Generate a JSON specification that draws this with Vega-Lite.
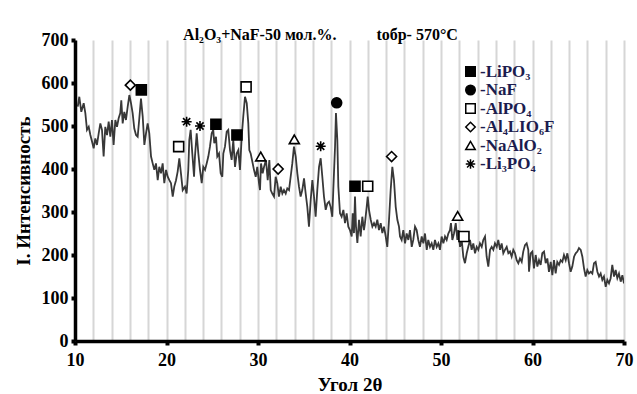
{
  "$schema": "https://vega.github.io/schema/vega-lite/v6.json",
  "width": 549,
  "height": 301,
  "autosize": {"type": "none"},
  "padding": {"left": 75, "top": 40, "right": 13, "bottom": 53},
  "background": "white",
  "title": {
    "text": "Al₂O₃+NaF-50 мол.%.\u00a0\u00a0\u00a0\u00a0\u00a0\u00a0\u00a0\u00a0\u00a0\u00a0tобр- 570°C",
    "font": "Liberation Serif",
    "fontSize": 16,
    "fontWeight": "bold",
    "color": "black",
    "anchor": "middle",
    "baseline": "alphabetic",
    "dx": -29,
    "dy": 28,
    "offset": 3
  },
  "config": {
    "view": {"stroke": null},
    "font": "Liberation Serif",
    "axis": {
      "labelFont": "Liberation Serif",
      "labelFontWeight": "bold",
      "labelFontSize": 18,
      "labelColor": "black",
      "titleFont": "Liberation Serif",
      "titleFontWeight": "bold",
      "titleFontSize": 19,
      "titleColor": "black",
      "domainColor": "black",
      "domainWidth": 3.5,
      "tickColor": "black",
      "tickWidth": 4,
      "tickSize": 4
    }
  },
  "datasets": {
    "xrd": [
      {"angle": 10.3, "intensity": 545}, {"angle": 10.47, "intensity": 568}, {"angle": 10.69, "intensity": 533}, {"angle": 10.95, "intensity": 553},
      {"angle": 11.13, "intensity": 530}, {"angle": 11.31, "intensity": 491}, {"angle": 11.5, "intensity": 498}, {"angle": 11.68, "intensity": 479},
      {"angle": 11.86, "intensity": 464}, {"angle": 12.04, "intensity": 448}, {"angle": 12.22, "intensity": 471}, {"angle": 12.4, "intensity": 456},
      {"angle": 12.59, "intensity": 483}, {"angle": 12.77, "intensity": 506}, {"angle": 12.95, "intensity": 491}, {"angle": 13.13, "intensity": 429},
      {"angle": 13.31, "intensity": 498}, {"angle": 13.5, "intensity": 479}, {"angle": 13.68, "intensity": 510}, {"angle": 13.86, "intensity": 475},
      {"angle": 14.04, "intensity": 514}, {"angle": 14.22, "intensity": 456}, {"angle": 14.41, "intensity": 514}, {"angle": 14.59, "intensity": 498},
      {"angle": 14.77, "intensity": 518}, {"angle": 14.95, "intensity": 530}, {"angle": 15.06, "intensity": 560}, {"angle": 15.21, "intensity": 506},
      {"angle": 15.39, "intensity": 533}, {"angle": 15.57, "intensity": 514}, {"angle": 15.76, "intensity": 545}, {"angle": 15.94, "intensity": 572},
      {"angle": 16.12, "intensity": 553}, {"angle": 16.3, "intensity": 530}, {"angle": 16.48, "intensity": 494}, {"angle": 16.67, "intensity": 479},
      {"angle": 16.85, "intensity": 475}, {"angle": 17.03, "intensity": 518}, {"angle": 17.21, "intensity": 564}, {"angle": 17.4, "intensity": 522},
      {"angle": 17.58, "intensity": 456}, {"angle": 17.76, "intensity": 483}, {"angle": 17.94, "intensity": 506}, {"angle": 18.12, "intensity": 483},
      {"angle": 18.31, "intensity": 429}, {"angle": 18.49, "intensity": 413}, {"angle": 18.67, "intensity": 398}, {"angle": 18.85, "intensity": 413},
      {"angle": 19.04, "intensity": 374}, {"angle": 19.21, "intensity": 405}, {"angle": 19.4, "intensity": 390}, {"angle": 19.58, "intensity": 413},
      {"angle": 19.76, "intensity": 367}, {"angle": 19.95, "intensity": 398}, {"angle": 20.13, "intensity": 382}, {"angle": 20.31, "intensity": 374},
      {"angle": 20.49, "intensity": 367}, {"angle": 20.68, "intensity": 336}, {"angle": 20.85, "intensity": 359}, {"angle": 21.04, "intensity": 374},
      {"angle": 21.22, "intensity": 394}, {"angle": 21.4, "intensity": 425}, {"angle": 21.58, "intensity": 390}, {"angle": 21.77, "intensity": 351},
      {"angle": 22.02, "intensity": 359}, {"angle": 22.2, "intensity": 343}, {"angle": 22.38, "intensity": 398}, {"angle": 22.49, "intensity": 467},
      {"angle": 22.64, "intensity": 491}, {"angle": 22.82, "intensity": 436}, {"angle": 23.01, "intensity": 382}, {"angle": 23.11, "intensity": 429},
      {"angle": 23.3, "intensity": 483}, {"angle": 23.48, "intensity": 436}, {"angle": 23.66, "intensity": 398}, {"angle": 23.85, "intensity": 367},
      {"angle": 24.02, "intensity": 405}, {"angle": 24.21, "intensity": 398}, {"angle": 24.39, "intensity": 413}, {"angle": 24.57, "intensity": 429},
      {"angle": 24.75, "intensity": 452}, {"angle": 24.94, "intensity": 483}, {"angle": 25.11, "intensity": 491}, {"angle": 25.22, "intensity": 460},
      {"angle": 25.41, "intensity": 475}, {"angle": 25.55, "intensity": 429}, {"angle": 25.74, "intensity": 436}, {"angle": 25.92, "intensity": 390},
      {"angle": 26.1, "intensity": 382}, {"angle": 26.21, "intensity": 436}, {"angle": 26.39, "intensity": 452}, {"angle": 26.58, "intensity": 487},
      {"angle": 26.75, "intensity": 491}, {"angle": 26.94, "intensity": 444}, {"angle": 27.12, "intensity": 421}, {"angle": 27.3, "intensity": 467},
      {"angle": 27.49, "intensity": 405}, {"angle": 27.67, "intensity": 436}, {"angle": 27.85, "intensity": 444}, {"angle": 28.03, "intensity": 398},
      {"angle": 28.22, "intensity": 475}, {"angle": 28.39, "intensity": 522}, {"angle": 28.58, "intensity": 568}, {"angle": 28.77, "intensity": 553},
      {"angle": 28.94, "intensity": 506}, {"angle": 29.05, "intensity": 444}, {"angle": 29.2, "intensity": 436}, {"angle": 29.42, "intensity": 413},
      {"angle": 29.56, "intensity": 398}, {"angle": 29.75, "intensity": 382}, {"angle": 29.92, "intensity": 405}, {"angle": 30.11, "intensity": 367},
      {"angle": 30.22, "intensity": 351}, {"angle": 30.33, "intensity": 413}, {"angle": 30.51, "intensity": 390}, {"angle": 30.66, "intensity": 405},
      {"angle": 30.87, "intensity": 421}, {"angle": 31.06, "intensity": 374}, {"angle": 31.24, "intensity": 421}, {"angle": 31.39, "intensity": 351},
      {"angle": 31.56, "intensity": 343}, {"angle": 31.75, "intensity": 336}, {"angle": 31.93, "intensity": 382}, {"angle": 32.11, "intensity": 367},
      {"angle": 32.29, "intensity": 336}, {"angle": 32.48, "intensity": 359}, {"angle": 32.66, "intensity": 343}, {"angle": 32.84, "intensity": 351},
      {"angle": 33.03, "intensity": 343}, {"angle": 33.2, "intensity": 355}, {"angle": 33.39, "intensity": 351}, {"angle": 33.57, "intensity": 382},
      {"angle": 33.75, "intensity": 413}, {"angle": 33.93, "intensity": 452}, {"angle": 34.12, "intensity": 429}, {"angle": 34.3, "intensity": 390},
      {"angle": 34.48, "intensity": 359}, {"angle": 34.66, "intensity": 336}, {"angle": 34.84, "intensity": 351}, {"angle": 35.03, "intensity": 378},
      {"angle": 35.21, "intensity": 343}, {"angle": 35.39, "intensity": 312}, {"angle": 35.57, "intensity": 266}, {"angle": 35.76, "intensity": 328},
      {"angle": 35.94, "intensity": 374}, {"angle": 36.12, "intensity": 336}, {"angle": 36.3, "intensity": 289}, {"angle": 36.48, "intensity": 351},
      {"angle": 36.67, "intensity": 405}, {"angle": 36.85, "intensity": 425}, {"angle": 37.03, "intensity": 382}, {"angle": 37.21, "intensity": 336},
      {"angle": 37.4, "intensity": 305}, {"angle": 37.58, "intensity": 320}, {"angle": 37.76, "intensity": 324}, {"angle": 37.94, "intensity": 312},
      {"angle": 38.12, "intensity": 289}, {"angle": 38.23, "intensity": 351}, {"angle": 38.42, "intensity": 452}, {"angle": 38.52, "intensity": 530},
      {"angle": 38.67, "intensity": 467}, {"angle": 38.78, "intensity": 359}, {"angle": 38.96, "intensity": 297}, {"angle": 39.14, "intensity": 289},
      {"angle": 39.33, "intensity": 305}, {"angle": 39.51, "intensity": 274}, {"angle": 39.69, "intensity": 297}, {"angle": 39.87, "intensity": 266},
      {"angle": 40.05, "intensity": 258}, {"angle": 40.24, "intensity": 243}, {"angle": 40.35, "intensity": 297}, {"angle": 40.49, "intensity": 251},
      {"angle": 40.6, "intensity": 336}, {"angle": 40.71, "intensity": 266}, {"angle": 40.86, "intensity": 228}, {"angle": 41.04, "intensity": 282},
      {"angle": 41.22, "intensity": 243}, {"angle": 41.4, "intensity": 289}, {"angle": 41.58, "intensity": 258}, {"angle": 41.69, "intensity": 274},
      {"angle": 41.88, "intensity": 312}, {"angle": 41.99, "intensity": 336}, {"angle": 42.13, "intensity": 305}, {"angle": 42.32, "intensity": 282},
      {"angle": 42.5, "intensity": 266}, {"angle": 42.68, "intensity": 274}, {"angle": 42.86, "intensity": 266}, {"angle": 43.04, "intensity": 282},
      {"angle": 43.22, "intensity": 258}, {"angle": 43.41, "intensity": 274}, {"angle": 43.59, "intensity": 251}, {"angle": 43.77, "intensity": 266},
      {"angle": 43.96, "intensity": 243}, {"angle": 44.13, "intensity": 219}, {"angle": 44.32, "intensity": 282}, {"angle": 44.5, "intensity": 351},
      {"angle": 44.68, "intensity": 405}, {"angle": 44.86, "intensity": 374}, {"angle": 45.05, "intensity": 312}, {"angle": 45.23, "intensity": 282},
      {"angle": 45.41, "intensity": 266}, {"angle": 45.52, "intensity": 243}, {"angle": 45.7, "intensity": 235}, {"angle": 45.88, "intensity": 258},
      {"angle": 46.07, "intensity": 227}, {"angle": 46.25, "intensity": 250}, {"angle": 46.43, "intensity": 235}, {"angle": 46.61, "intensity": 258},
      {"angle": 46.8, "intensity": 219}, {"angle": 46.97, "intensity": 235}, {"angle": 47.16, "intensity": 266}, {"angle": 47.34, "intensity": 258},
      {"angle": 47.52, "intensity": 235}, {"angle": 47.7, "intensity": 219}, {"angle": 47.89, "intensity": 243}, {"angle": 48.07, "intensity": 227},
      {"angle": 48.25, "intensity": 250}, {"angle": 48.44, "intensity": 212}, {"angle": 48.61, "intensity": 235}, {"angle": 48.8, "intensity": 219},
      {"angle": 48.98, "intensity": 227}, {"angle": 49.16, "intensity": 212}, {"angle": 49.34, "intensity": 235}, {"angle": 49.53, "intensity": 219},
      {"angle": 49.71, "intensity": 227}, {"angle": 49.89, "intensity": 212}, {"angle": 50.07, "intensity": 243}, {"angle": 50.26, "intensity": 227},
      {"angle": 50.44, "intensity": 243}, {"angle": 50.62, "intensity": 235}, {"angle": 50.8, "intensity": 250}, {"angle": 50.98, "intensity": 258},
      {"angle": 51.09, "intensity": 274}, {"angle": 51.24, "intensity": 235}, {"angle": 51.42, "intensity": 250}, {"angle": 51.61, "intensity": 274},
      {"angle": 51.79, "intensity": 235}, {"angle": 51.9, "intensity": 258}, {"angle": 52.08, "intensity": 219}, {"angle": 52.26, "intensity": 235},
      {"angle": 52.44, "intensity": 196}, {"angle": 52.62, "intensity": 181}, {"angle": 52.81, "intensity": 204}, {"angle": 52.98, "intensity": 219},
      {"angle": 53.17, "intensity": 235}, {"angle": 53.35, "intensity": 212}, {"angle": 53.53, "intensity": 227}, {"angle": 53.72, "intensity": 204},
      {"angle": 53.9, "intensity": 219}, {"angle": 54.08, "intensity": 212}, {"angle": 54.26, "intensity": 227}, {"angle": 54.45, "intensity": 219},
      {"angle": 54.62, "intensity": 235}, {"angle": 54.81, "intensity": 243}, {"angle": 54.99, "intensity": 196}, {"angle": 55.17, "intensity": 173},
      {"angle": 55.36, "intensity": 212}, {"angle": 55.54, "intensity": 219}, {"angle": 55.72, "intensity": 212}, {"angle": 55.9, "intensity": 227},
      {"angle": 56.09, "intensity": 219}, {"angle": 56.26, "intensity": 235}, {"angle": 56.45, "intensity": 212}, {"angle": 56.63, "intensity": 227},
      {"angle": 56.81, "intensity": 204}, {"angle": 56.99, "intensity": 212}, {"angle": 57.18, "intensity": 219}, {"angle": 57.36, "intensity": 204},
      {"angle": 57.54, "intensity": 208}, {"angle": 57.72, "intensity": 196}, {"angle": 57.9, "intensity": 212}, {"angle": 58.09, "intensity": 204},
      {"angle": 58.27, "intensity": 188}, {"angle": 58.45, "intensity": 181}, {"angle": 58.63, "intensity": 192}, {"angle": 58.82, "intensity": 184},
      {"angle": 58.99, "intensity": 208}, {"angle": 59.18, "intensity": 223}, {"angle": 59.36, "intensity": 227}, {"angle": 59.54, "intensity": 212},
      {"angle": 59.62, "intensity": 161}, {"angle": 59.8, "intensity": 204}, {"angle": 59.98, "intensity": 208}, {"angle": 60.16, "intensity": 169},
      {"angle": 60.35, "intensity": 200}, {"angle": 60.53, "intensity": 173}, {"angle": 60.71, "intensity": 188}, {"angle": 60.89, "intensity": 177},
      {"angle": 61.07, "intensity": 204}, {"angle": 61.26, "intensity": 208}, {"angle": 61.44, "intensity": 181}, {"angle": 61.62, "intensity": 192},
      {"angle": 61.8, "intensity": 161}, {"angle": 61.99, "intensity": 184}, {"angle": 62.17, "intensity": 153}, {"angle": 62.35, "intensity": 188},
      {"angle": 62.53, "intensity": 157}, {"angle": 62.71, "intensity": 184}, {"angle": 62.9, "intensity": 177}, {"angle": 63.08, "intensity": 188},
      {"angle": 63.26, "intensity": 184}, {"angle": 63.44, "intensity": 200}, {"angle": 63.63, "intensity": 188}, {"angle": 63.81, "intensity": 204},
      {"angle": 63.99, "intensity": 181}, {"angle": 64.17, "intensity": 161}, {"angle": 64.35, "intensity": 173}, {"angle": 64.54, "intensity": 196},
      {"angle": 64.72, "intensity": 204}, {"angle": 64.9, "intensity": 208}, {"angle": 65.08, "intensity": 216}, {"angle": 65.27, "intensity": 212},
      {"angle": 65.45, "intensity": 196}, {"angle": 65.63, "intensity": 169}, {"angle": 65.81, "intensity": 150}, {"angle": 65.99, "intensity": 165},
      {"angle": 66.17, "intensity": 157}, {"angle": 66.36, "intensity": 161}, {"angle": 66.54, "intensity": 157}, {"angle": 66.72, "intensity": 181},
      {"angle": 66.9, "intensity": 184}, {"angle": 67.09, "intensity": 161}, {"angle": 67.27, "intensity": 150}, {"angle": 67.45, "intensity": 157},
      {"angle": 67.63, "intensity": 142}, {"angle": 67.81, "intensity": 150}, {"angle": 68.0, "intensity": 126}, {"angle": 68.18, "intensity": 142},
      {"angle": 68.36, "intensity": 134}, {"angle": 68.54, "intensity": 146}, {"angle": 68.72, "intensity": 177}, {"angle": 68.91, "intensity": 150},
      {"angle": 69.09, "intensity": 165}, {"angle": 69.27, "intensity": 146}, {"angle": 69.45, "intensity": 157}, {"angle": 69.64, "intensity": 138},
      {"angle": 69.82, "intensity": 153}, {"angle": 70.0, "intensity": 134}
    ],
    "peaks": [
      {"phase": "LiPO₃", "angle": 17.25, "intensity": 584},
      {"phase": "LiPO₃", "angle": 25.4, "intensity": 504},
      {"phase": "LiPO₃", "angle": 27.7, "intensity": 479},
      {"phase": "LiPO₃", "angle": 40.6, "intensity": 360},
      {"phase": "NaF", "angle": 38.6, "intensity": 554},
      {"phase": "AlPO₄", "angle": 21.33, "intensity": 452},
      {"phase": "AlPO₄", "angle": 28.7, "intensity": 591},
      {"phase": "AlPO₄", "angle": 41.99, "intensity": 360},
      {"phase": "AlPO₄", "angle": 52.51, "intensity": 243},
      {"phase": "Al₄LIO₆F", "angle": 16.05, "intensity": 595},
      {"phase": "Al₄LIO₆F", "angle": 32.2, "intensity": 400},
      {"phase": "Al₄LIO₆F", "angle": 44.6, "intensity": 429},
      {"phase": "NaAlO₂", "angle": 30.3, "intensity": 429},
      {"phase": "NaAlO₂", "angle": 33.97, "intensity": 469},
      {"phase": "NaAlO₂", "angle": 51.82, "intensity": 291},
      {"phase": "Li₃PO₄", "angle": 22.2, "intensity": 510},
      {"phase": "Li₃PO₄", "angle": 23.66, "intensity": 500},
      {"phase": "Li₃PO₄", "angle": 36.85, "intensity": 453}
    ]
  },
  "layer": [
    {
      "data": {"name": "xrd"},
      "mark": {"type": "line", "color": "#383838", "strokeWidth": 1.8, "clip": true},
      "encoding": {
        "x": {
          "field": "angle",
          "type": "quantitative",
          "scale": {"domain": [10, 70], "nice": false, "zero": false},
          "axis": {
            "title": "Угол 2θ",
            "format": "d",
            "values": [10, 12, 14, 16, 18, 20, 22, 24, 26, 28, 30, 32, 34, 36, 38, 40, 42, 44, 46, 48, 50, 52, 54, 56, 58, 60, 62, 64, 66, 68, 70],
            "tickCount": 100,
            "labelExpr": "datum.value % 10 === 0 ? datum.label : ''",
            "tickColor": {"condition": {"test": "datum.value % 10 === 0", "value": "black"}, "value": "transparent"},
            "grid": true,
            "gridColor": "#d6d6d6",
            "gridWidth": 2,
            "labelPadding": 6,
            "labelFlush": false,
            "labelOverlap": false,
            "titlePadding": 6
          }
        },
        "y": {
          "field": "intensity",
          "type": "quantitative",
          "scale": {"domain": [0, 700], "nice": false},
          "axis": {
            "title": "I. Интенсивность",
            "format": "d",
            "values": [0, 100, 200, 300, 400, 500, 600, 700],
            "tickCount": 100,
            "grid": false,
            "labelPadding": 3,
            "titlePadding": 8
          }
        }
      }
    },
    {
      "data": {"name": "peaks"},
      "mark": {"type": "point", "stroke": "black", "strokeWidth": 1.6, "size": 100, "opacity": 1},
      "encoding": {
        "x": {"field": "angle", "type": "quantitative"},
        "y": {"field": "intensity", "type": "quantitative"},
        "shape": {
          "field": "phase",
          "type": "nominal",
          "scale": {
            "domain": ["LiPO₃", "NaF", "AlPO₄", "Al₄LIO₆F", "NaAlO₂", "Li₃PO₄"],
            "range": ["square", "circle", "square", "diamond", "triangle-up", "M-1,0H1M0,-1V1M-0.72,-0.72L0.72,0.72M-0.72,0.72L0.72,-0.72"]
          },
          "legend": {
            "title": null,
            "orient": "none",
            "legendX": 387,
            "legendY": 23,
            "padding": 0,
            "labelExpr": "'-' + datum.label",
            "labelFont": "Liberation Serif",
            "labelFontSize": 17,
            "labelFontWeight": "bold",
            "labelColor": "#1c1c4e",
            "labelOffset": 1,
            "rowPadding": 0.5,
            "symbolSize": 90,
            "encode": {
              "symbols": {
                "update": {
                  "fill": {"scale": "fill", "field": "value"},
                  "stroke": {"value": "black"},
                  "strokeWidth": {"value": 1.6},
                  "opacity": {"value": 1}
                }
              }
            }
          }
        },
        "fill": {
          "field": "phase",
          "type": "nominal",
          "scale": {
            "domain": ["LiPO₃", "NaF", "AlPO₄", "Al₄LIO₆F", "NaAlO₂", "Li₃PO₄"],
            "range": ["black", "black", "white", "white", "white", "transparent"]
          },
          "legend": null
        }
      }
    }
  ]
}
